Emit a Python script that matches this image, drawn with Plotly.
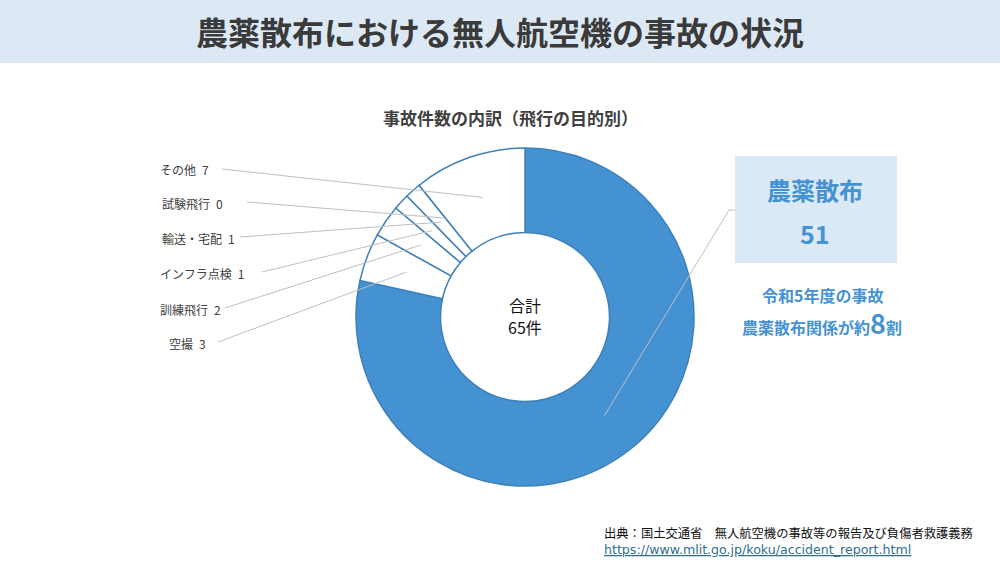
import math
import plotly.graph_objects as go

# ---- data ----
categories = ["農薬散布", "空撮", "訓練飛行", "インフラ点検", "輸送・宅配", "試験飛行", "その他"]
values = [51, 3, 2, 1, 1, 0, 7]
total = sum(values)
title = "農薬散布における無人航空機の事故の状況"
subtitle = "事故件数の内訳（飛行の目的別）"
center_top = "合計"
center_unit = "件"
note1 = "令和5年度の事故"
note2_pre, note2_num, note2_post = "農薬散布関係が約", "8", "割"
source = "出典：国土交通省　無人航空機の事故等の報告及び負傷者救護義務"
url = "https://www.mlit.go.jp/koku/accident_report.html"

# ---- layout constants (pixels) ----
W, H = 1000, 563
cx, cy, R, hole = 525, 317, 169, 0.5
BLUE = "#4592d2"
EDGE = "#3f80b8"
TXT = "#404040"
FONT = "Noto Sans CJK JP"

def px(x):
    return x / W

def py(y):
    return 1 - y / H

colors = [BLUE] + ["white"] * (len(values) - 1)

fig = go.Figure(go.Pie(
    labels=categories, values=values, sort=False, direction="clockwise", rotation=0,
    hole=hole, textinfo="none", hoverinfo="label+value",
    marker=dict(colors=colors, line=dict(color=EDGE, width=1.5)),
    domain=dict(x=[px(cx - R), px(cx + R)], y=[py(cy + R), py(cy - R)]),
    showlegend=False,
))

# mid-angle points on ring
rm = R * (1 + hole) / 2
mids = {}
cum = 0
for c, v in zip(categories, values):
    a = math.radians((cum + v / 2) / total * 360)
    mids[c] = (cx + rm * math.sin(a), cy - rm * math.cos(a))
    cum += v

shapes = [dict(type="rect", xref="paper", yref="paper", x0=0, x1=1, y0=py(63), y1=1,
               fillcolor="#dce9f5", line=dict(width=0), layer="below"),
          dict(type="rect", xref="paper", yref="paper", x0=px(735), x1=px(897), y0=py(263), y1=py(156),
               fillcolor="#dbe8f5", line=dict(width=0), layer="below")]
annotations = []

def ann(text, x, y, size, color, xanchor="center", family=FONT, **fk):
    return dict(text=text, x=px(x), y=py(y), xref="paper", yref="paper", xanchor=xanchor,
                yanchor="middle", showarrow=False, font=dict(family=family, size=size, color=color, **fk))

# left-side labels: (category, text left x, text y, line start x)
label_layout = [("その他", 158, 170, 222), ("試験飛行", 160, 203, 247), ("輸送・宅配", 160, 238, 240),
                ("インフラ点検", 158, 273, 262), ("訓練飛行", 158, 309, 225), ("空撮", 167, 343, 218)]
for c, lx, ly, sx in label_layout:
    v = values[categories.index(c)]
    annotations.append(ann(f"{c}\u2002{v}", lx, ly, 12, TXT, xanchor="left"))
    ex, ey = mids[c]
    shapes.append(dict(type="line", xref="paper", yref="paper", x0=px(sx), y0=py(ly - 1),
                       x1=px(ex), y1=py(ey), line=dict(color="#bfbfbf", width=1)))

# leader for main slice
mx, my = mids[categories[0]]
shapes.append(dict(type="path", xref="paper", yref="paper",
                   path=f"M {px(mx)},{py(my)} L {px(729)},{py(210)} L {px(735)},{py(210)}",
                   line=dict(color="#bfbfbf", width=1)))

annotations += [
    ann(f"<b>{title}</b>", 500, 31, 32, "#3a3a3a"),
    ann(f"<b>{subtitle}</b>", 510, 117, 17, TXT),
    ann(center_top, cx, 305, 16, "#111111"),
    ann(f"{total}{center_unit}", cx, 327, 16, "#111111"),
    ann(f"<b>{categories[0]}</b>", 815, 190, 24, BLUE),
    ann(f"<b>{values[0]}</b>", 815, 233, 25, BLUE),
    ann(f"<b>{note1}</b>", 822, 295, 16, BLUE),
    ann(f"<b>{note2_pre}<span style='font-size:27px'>{note2_num}</span>{note2_post}</b>", 822, 322, 16, BLUE),
    ann(source, 602, 533, 12.3, "#111111", xanchor="left"),
    ann(url, 602, 549, 12.6, "#2f6f8f", xanchor="left", family="DejaVu Sans", lineposition="under"),
]

fig.update_layout(width=W, height=H, margin=dict(l=0, r=0, t=0, b=0),
                  paper_bgcolor="white", plot_bgcolor="white",
                  shapes=shapes, annotations=annotations)
fig.write_html("out.html", config={"displayModeBar": False},
               post_script="document.body.style.margin='0';document.body.style.padding='0';")
